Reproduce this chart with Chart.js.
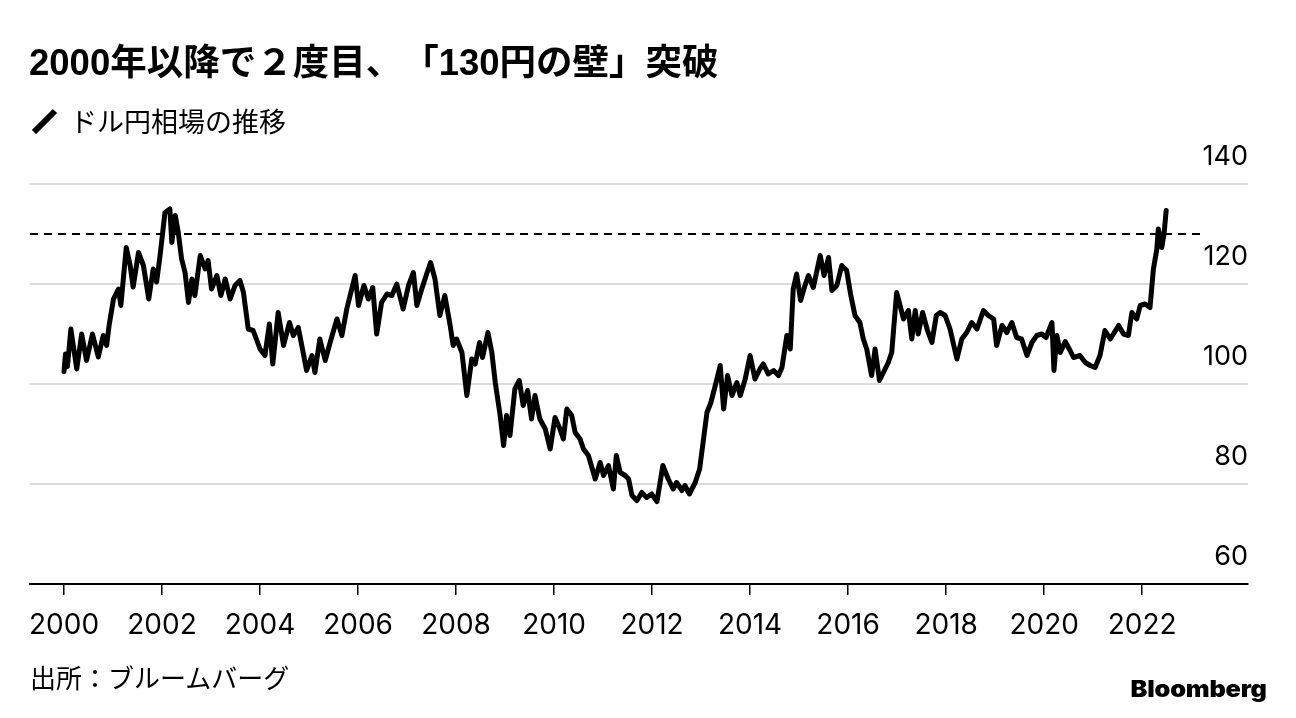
<!DOCTYPE html>
<html lang="ja">
<head>
<meta charset="utf-8">
<script src="https://cdn.jsdelivr.net/npm/chart.js@4.4.1/dist/chart.umd.min.js"></script>
<style>
  body { margin: 0; background: #fff; }
  #wrap { position: relative; width: 1296px; height: 718px; overflow: hidden; }
  #chart { position: absolute; left: 0; top: 0; }
  .txt { position: absolute; white-space: nowrap; color: #000; text-spacing-trim: space-all; }
  #title { left: 29px; top: 45px; font: bold 36.5px/36px "Liberation Sans", "Noto Sans CJK JP", sans-serif; }
  #legend { left: 30px; top: 107px; font: 400 27px/27px "Noto Sans CJK JP", sans-serif; }
  #legend svg { vertical-align: top; margin-right: 10px; }
  #source { left: 30px; top: 664px; font: 400 26px/26px "Noto Sans CJK JP", sans-serif; }
  #logo { right: 29px; top: 678px; font: 900 23px/23px "Inter", "Liberation Sans", sans-serif; letter-spacing: -0.2px; transform: scaleX(1.1); transform-origin: right center; }
</style>
</head>
<body>
<div id="wrap">
  <canvas id="chart" width="1296" height="718"></canvas>
  <div class="txt" id="title">2000年以降で２度目、「130円の壁」突破</div>
  <div class="txt" id="legend"><svg width="30" height="27"><line x1="4" y1="25" x2="25" y2="4" stroke="#000" stroke-width="6" stroke-linecap="butt"/></svg>ドル円相場の推移</div>
  <div class="txt" id="source">出所：ブルームバーグ</div>
  <div class="txt" id="logo">Bloomberg</div>
</div>
<script>
// USD/JPY (decimal year, yen per dollar)
const dates = [
  2000.00, 2000.03, 2000.07, 2000.14, 2000.26, 2000.36, 2000.46, 2000.58, 2000.70, 2000.80,
  2000.87, 2000.92, 2001.01, 2001.11, 2001.16, 2001.27, 2001.35, 2001.41, 2001.52, 2001.62,
  2001.73, 2001.82, 2001.89, 2001.96, 2002.06, 2002.16, 2002.20, 2002.27, 2002.33, 2002.40,
  2002.47, 2002.54, 2002.61, 2002.67, 2002.78, 2002.88, 2002.94, 2003.01, 2003.12, 2003.20,
  2003.29, 2003.39, 2003.49, 2003.59, 2003.66, 2003.76, 2003.86, 2004.00, 2004.10, 2004.19,
  2004.26, 2004.37, 2004.48, 2004.60, 2004.68, 2004.78, 2004.88, 2004.95, 2005.06, 2005.12,
  2005.22, 2005.33, 2005.43, 2005.57, 2005.67, 2005.77, 2005.94, 2006.01, 2006.12, 2006.21,
  2006.30, 2006.38, 2006.48, 2006.59, 2006.69, 2006.79, 2006.92, 2007.03, 2007.13, 2007.20,
  2007.30, 2007.40, 2007.48, 2007.57, 2007.67, 2007.77, 2007.88, 2007.94, 2008.01, 2008.12,
  2008.22, 2008.32, 2008.39, 2008.48, 2008.54, 2008.65, 2008.73, 2008.80, 2008.90, 2008.97,
  2009.03, 2009.10, 2009.20, 2009.29, 2009.37, 2009.46, 2009.54, 2009.61, 2009.71, 2009.82,
  2009.92, 2010.02, 2010.12, 2010.19, 2010.26, 2010.36, 2010.43, 2010.53, 2010.60, 2010.70,
  2010.84, 2010.94, 2011.01, 2011.11, 2011.21, 2011.27, 2011.35, 2011.45, 2011.52, 2011.59,
  2011.69, 2011.79, 2011.89, 2011.99, 2012.10, 2012.22, 2012.33, 2012.43, 2012.50, 2012.61,
  2012.67, 2012.76, 2012.88, 2012.97, 2013.05, 2013.12, 2013.20, 2013.29, 2013.39, 2013.46,
  2013.54, 2013.63, 2013.73, 2013.80, 2013.90, 2014.00, 2014.10, 2014.20, 2014.27, 2014.37,
  2014.48, 2014.58, 2014.65, 2014.75, 2014.82, 2014.88, 2014.95, 2015.03, 2015.12, 2015.19,
  2015.29, 2015.43, 2015.51, 2015.60, 2015.67, 2015.77, 2015.87, 2015.97, 2016.05, 2016.14,
  2016.24, 2016.31, 2016.38, 2016.48, 2016.55, 2016.64, 2016.72, 2016.82, 2016.89, 2016.99,
  2017.06, 2017.13, 2017.23, 2017.30, 2017.37, 2017.43, 2017.52, 2017.62, 2017.71, 2017.80,
  2017.88, 2017.98, 2018.08, 2018.22, 2018.32, 2018.42, 2018.52, 2018.63, 2018.76, 2018.86,
  2018.97, 2019.03, 2019.14, 2019.24, 2019.34, 2019.44, 2019.54, 2019.65, 2019.75, 2019.85,
  2019.95, 2020.04, 2020.16, 2020.20, 2020.26, 2020.33, 2020.43, 2020.53, 2020.60, 2020.73,
  2020.84, 2020.94, 2021.04, 2021.14, 2021.24, 2021.35, 2021.52, 2021.62, 2021.72, 2021.79,
  2021.89, 2021.96, 2022.06, 2022.16, 2022.23, 2022.30, 2022.33, 2022.40, 2022.45, 2022.49
];
const rates = [
  102.5, 106.0, 103.5, 111.0, 103.0, 110.0, 104.7, 110.0, 105.4, 109.7,
  107.7, 111.7, 117.0, 119.0, 115.7, 127.3, 123.7, 119.4, 126.3, 123.7,
  117.0, 123.0, 120.4, 125.7, 134.3, 135.0, 128.3, 133.7, 130.4, 125.0,
  122.3, 116.3, 121.0, 117.7, 125.7, 123.0, 124.7, 119.0, 121.7, 117.7,
  121.0, 117.0, 119.7, 120.7, 118.4, 111.0, 110.7, 107.0, 105.7, 112.0,
  104.0, 114.3, 107.7, 112.3, 109.7, 111.3, 106.3, 102.7, 105.7, 102.3,
  109.0, 104.7, 108.3, 113.0, 109.7, 115.0, 121.7, 115.7, 119.7, 117.0,
  119.3, 110.0, 116.3, 118.0, 117.7, 120.0, 115.0, 119.7, 122.3, 115.7,
  119.0, 122.0, 124.3, 121.0, 113.7, 117.7, 111.7, 107.7, 109.0, 106.3,
  97.7, 105.0, 104.0, 108.3, 105.3, 110.3, 106.3, 100.3, 93.7, 87.7,
  93.7, 89.7, 99.0, 100.7, 95.7, 98.7, 93.0, 97.7, 93.0, 91.0,
  87.0, 93.3, 91.0, 89.0, 95.0, 93.7, 90.3, 89.0, 87.0, 85.7,
  81.0, 84.3, 81.7, 83.7, 79.0, 85.7, 82.3, 81.7, 81.0, 77.7,
  76.7, 78.3, 77.3, 78.0, 76.5, 83.7, 81.0, 79.0, 80.3, 78.7,
  79.7, 78.0, 80.3, 83.0, 89.0, 94.3, 96.3, 99.7, 103.7, 95.0,
  101.7, 97.7, 100.3, 97.7, 101.0, 105.7, 101.0, 103.0, 104.0, 102.0,
  102.7, 101.7, 103.3, 109.7, 107.0, 119.0, 122.0, 116.7, 119.7, 121.7,
  119.3, 125.7, 121.7, 125.3, 118.7, 119.7, 123.7, 122.7, 118.0, 113.7,
  112.3, 109.0, 107.0, 101.7, 107.0, 100.7, 102.3, 104.3, 106.3, 118.3,
  115.7, 113.0, 114.7, 109.0, 114.7, 110.0, 114.3, 110.7, 108.3, 113.7,
  114.3, 113.7, 111.0, 105.0, 109.0, 110.3, 112.3, 111.0, 114.7, 113.7,
  113.0, 107.7, 111.7, 110.3, 112.3, 109.3, 109.0, 105.7, 108.3, 109.7,
  110.0, 109.3, 112.3, 102.7, 109.7, 106.3, 108.5, 106.7, 105.3, 105.7,
  104.3, 103.7, 103.3, 105.7, 110.7, 109.0, 111.7, 110.0, 109.7, 114.3,
  113.0, 115.7, 116.0, 115.3, 123.0, 127.0, 131.0, 127.3, 130.3, 134.7
];

const yearTicks = [2000, 2002, 2004, 2006, 2008, 2010, 2012, 2014, 2016, 2018, 2020, 2022];
const yenTicks = [60, 80, 100, 120, 140];
const wallLevel = 130;      // 130円の壁
const wallEnd = 2023.18;
const xMin = 1999.306, xMax = 2024.16;

Chart.defaults.font.family = 'Inter, "Liberation Sans", sans-serif';
Chart.defaults.color = '#000';

const ctx = document.getElementById('chart').getContext('2d');

new Chart(ctx, {
    type: 'line',
    data: {
        datasets: [{
            label: 'ドル円相場の推移',
            data: dates.map((d, i) => ({ x: d, y: rates[i] })),
            borderColor: '#000',
            borderWidth: 5,
            borderJoinStyle: 'round',
            borderCapStyle: 'round',
            pointRadius: 0,
            tension: 0,
            order: 1
        }, {
            label: 'wall',
            data: [{ x: xMin, y: wallLevel }, { x: wallEnd, y: wallLevel }],
            borderColor: '#000',
            borderWidth: 2,
            borderDash: [8, 6],
            pointRadius: 0,
            order: 2
        }]
    },
    options: {
        responsive: false,
        animation: false,
        layout: { padding: { left: 30, right: 48, top: 184, bottom: 0 } },
        plugins: {
            legend: { display: false },
            tooltip: { enabled: false }
        },
        scales: {
            x: {
                type: 'linear',
                min: xMin,
                max: xMax,
                afterBuildTicks: (scale) => { scale.ticks = yearTicks.map(v => ({ value: v })); },
                afterFit: (scale) => { scale.height = 134; scale.paddingLeft = 0; scale.paddingRight = 0; },
                ticks: {
                    autoSkip: false,
                    maxRotation: 0,
                    padding: 14,
                    font: { size: 28 },
                    callback: (v) => String(v)
                },
                grid: {
                    drawOnChartArea: false,
                    drawTicks: true,
                    tickLength: 11,
                    color: '#000',
                    lineWidth: 1.5
                },
                border: { display: true, color: '#000', width: 2 }
            },
            y: {
                position: 'right',
                min: 60,
                max: 140,
                afterBuildTicks: (scale) => { scale.ticks = yenTicks.map(v => ({ value: v })); },
                afterFit: (scale) => { scale.width = 0; scale.paddingTop = 0; scale.paddingBottom = 0; },
                ticks: {
                    mirror: true,
                    padding: 0,
                    labelOffset: -27,
                    font: { size: 27 },
                    callback: (v) => String(v)
                },
                grid: {
                    drawTicks: false,
                    color: (c) => c.tick && c.tick.value === 60 ? 'rgba(0,0,0,0)' : '#dcdcdc',
                    lineWidth: 2
                },
                border: { display: false }
            }
        }
    }
});
</script>
</body>
</html>
